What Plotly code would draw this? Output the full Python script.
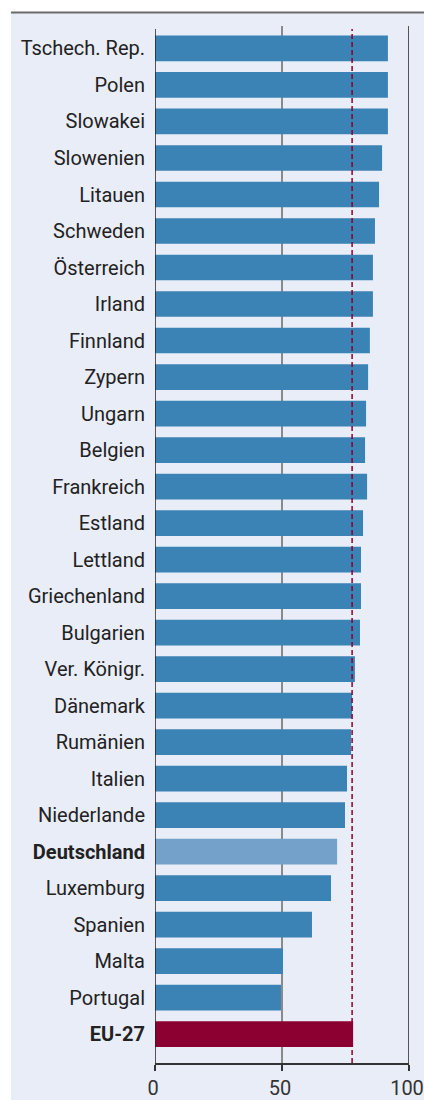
import plotly.graph_objects as go

countries = ["Tschech. Rep.", "Polen", "Slowakei", "Slowenien", "Litauen", "Schweden",
             "Österreich", "Irland", "Finnland", "Zypern", "Ungarn", "Belgien", "Frankreich",
             "Estland", "Lettland", "Griechenland", "Bulgarien", "Ver. Königr.", "Dänemark",
             "Rumänien", "Italien", "Niederlande", "Deutschland", "Luxemburg", "Spanien",
             "Malta", "Portugal", "EU-27"]
values = [91.7, 91.7, 91.7, 89.4, 88.2, 86.6, 85.8, 85.8, 84.6, 83.9, 83.1, 82.7, 83.5,
          81.9, 81.1, 81.1, 80.7, 78.7, 77.6, 77.2, 75.6, 74.8, 71.7, 69.3, 61.8,
          50.4, 49.6, 78.0]
eu_avg = 77.6
x_ticks = [0, 50, 100]
bold_labels = ["Deutschland", "EU-27"]

BLUE = "#3B82B5"
LIGHT = "#74A1CA"
RED = "#8B0030"
PANEL = "#E9EDF8"

colors = []
for c in countries:
    if c == "Deutschland":
        colors.append(LIGHT)
    elif c == "EU-27":
        colors.append(RED)
    else:
        colors.append(BLUE)

ticktext = [f"<b>{c}</b>" if c in bold_labels else c for c in countries]
idx = list(range(len(countries)))

W, H = 424, 1100
ml, mr, mt, mb = 155, 15, 26, 37
pw, ph = W - ml - mr, H - mt - mb


def px_x(p):
    return (p - ml) / pw


def px_y(p):
    return (H - mb - p) / ph


fig = go.Figure(go.Bar(
    x=values, y=idx, orientation="h", marker=dict(color=colors, line=dict(width=0)),
    hoverinfo="skip"))

n = len(countries)
fig.update_layout(
    width=W, height=H,
    margin=dict(l=ml, r=mr, t=mt, b=mb, pad=0, autoexpand=False),
    paper_bgcolor="white", plot_bgcolor=PANEL,
    bargap=0.295, showlegend=False,
    font=dict(family="Roboto", color="#222"),
    xaxis=dict(range=[0, 100], tickvals=x_ticks, showgrid=False, zeroline=False,
               showline=True, linecolor="#333", linewidth=1.5, ticks="outside",
               ticklen=6, tickcolor="#333", tickwidth=1.5, automargin=False,
               ticklabeloverflow="allow", ticklabelshift=-2,
               tickfont=dict(size=20, color="#333", family="Roboto")),
    yaxis=dict(range=[n - 1 + 0.793, -0.616], tickvals=idx, ticktext=ticktext,
               showgrid=False, zeroline=False, showline=False, ticks="",
               ticklabelstandoff=9, automargin=False,
               tickfont=dict(size=20, color="#222", family="Roboto")),
)

shapes = [
    dict(type="rect", xref="paper", yref="paper", x0=px_x(11), x1=px_x(424),
         y0=px_y(1100), y1=px_y(13), fillcolor=PANEL, line=dict(width=0), layer="below"),
    dict(type="line", xref="paper", yref="paper", x0=px_x(11), x1=px_x(424),
         y0=px_y(12.5), y1=px_y(12.5), line=dict(color="#6B6B6B", width=2)),
    dict(type="line", xref="x", yref="paper", x0=50, x1=50, y0=0, y1=1,
         line=dict(color="#8A8A8A", width=2), layer="below"),
    dict(type="line", xref="x", yref="paper", x0=100, x1=100, y0=0, y1=1,
         line=dict(color="#555", width=2), layer="below"),
    dict(type="line", xref="x", yref="paper", x0=0, x1=0, y0=0, y1=px_y(29),
         line=dict(color="#222", width=1.5)),
    dict(type="line", xref="x", yref="paper", x0=eu_avg, x1=eu_avg, y0=0, y1=px_y(29),
         line=dict(color=RED, width=1.5, dash="5px,3px")),
]
fig.update_layout(shapes=shapes)

fig.write_html("out.html", config={"displayModeBar": False},
               post_script="document.body.style.margin='0';document.body.style.padding='0';")
